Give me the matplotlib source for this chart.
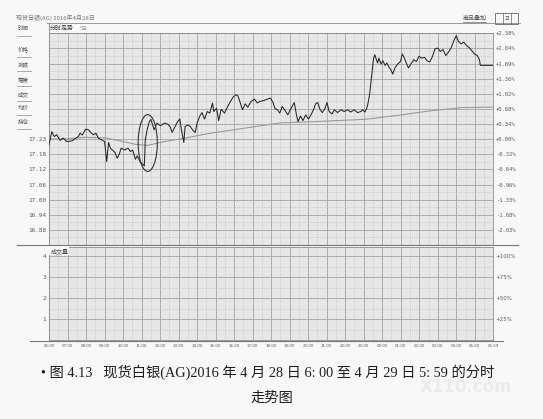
import matplotlib
matplotlib.use("Agg")
import matplotlib.pyplot as plt
from matplotlib.patches import Ellipse, Rectangle
from matplotlib.lines import Line2D

# ---------------- data ----------------
price_times = [
    "06:00", "06:09", "06:17", "06:25", "06:36", "06:46", "06:57", "07:14", "07:25", "07:35",
    "07:41", "07:48", "07:59", "08:08", "08:15", "08:24", "08:32", "08:40", "08:51", "09:00",
    "09:07", "09:13", "09:19", "09:27", "09:34", "09:41", "09:48", "09:54", "10:05", "10:16",
    "10:24", "10:31", "10:40", "10:46", "10:55", "11:03", "11:09", "11:12", "11:18", "11:25",
    "11:30", "11:36", "11:41", "11:50", "12:01", "12:14", "12:25", "12:33", "12:39", "12:46",
    "12:57", "13:04", "13:09", "13:17", "13:21", "13:30", "13:38", "13:47", "13:54", "14:00",
    "14:09", "14:16", "14:24", "14:33", "14:41", "14:50", "14:54", "15:03", "15:10", "15:18",
    "15:29", "15:38", "15:48", "15:57", "16:06", "16:12", "16:21", "16:27", "16:36", "16:44",
    "16:55", "17:06", "17:15", "17:23", "17:37", "17:47", "17:58", "18:06", "18:12", "18:20",
    "18:28", "18:36", "18:45", "18:54", "19:02", "19:11", "19:15", "19:22", "19:27", "19:35",
    "19:43", "19:52", "20:01", "20:09", "20:18", "20:24", "20:31", "20:38", "20:46", "20:55",
    "21:01", "21:08", "21:17", "21:25", "21:35", "21:46", "21:57", "22:08", "22:18", "22:29",
    "22:40", "22:51", "22:56", "23:04", "23:10", "23:14", "23:19", "23:23", "23:28", "23:32",
    "23:36", "23:41", "23:45", "23:49", "23:56", "00:02", "00:09", "00:15", "00:22", "00:28",
    "00:34", "00:41", "00:50", "00:59", "01:05", "01:12", "01:18", "01:25", "01:33", "01:42",
    "01:51", "01:59", "02:08", "02:17", "02:25", "02:34", "02:43", "02:51", "03:00", "03:08",
    "03:17", "03:26", "03:35", "03:43", "03:52", "04:00", "04:07", "04:16", "04:24", "04:33",
    "04:42", "04:50", "04:59", "05:08", "05:15", "05:18", "05:59",
]
price_values = [
    17.213, 17.264, 17.245, 17.252, 17.230, 17.239, 17.226, 17.228, 17.237, 17.245,
    17.258, 17.251, 17.274, 17.271, 17.261, 17.252, 17.258, 17.239, 17.232, 17.226,
    17.148, 17.222, 17.200, 17.191, 17.183, 17.161, 17.178, 17.200, 17.193, 17.200,
    17.187, 17.193, 17.157, 17.170, 17.148, 17.139, 17.131, 17.232, 17.271, 17.303,
    17.312, 17.290, 17.271, 17.297, 17.287, 17.297, 17.293, 17.282, 17.261, 17.278,
    17.303, 17.313, 17.274, 17.222, 17.284, 17.290, 17.284, 17.268, 17.261, 17.297,
    17.325, 17.338, 17.313, 17.342, 17.336, 17.375, 17.342, 17.355, 17.307, 17.351,
    17.336, 17.359, 17.381, 17.398, 17.407, 17.403, 17.372, 17.349, 17.372, 17.359,
    17.381, 17.390, 17.375, 17.381, 17.385, 17.390, 17.394, 17.377, 17.355, 17.349,
    17.336, 17.362, 17.346, 17.329, 17.349, 17.368, 17.377, 17.329, 17.303, 17.325,
    17.307, 17.329, 17.313, 17.329, 17.351, 17.372, 17.377, 17.351, 17.338, 17.355,
    17.377, 17.342, 17.333, 17.349, 17.338, 17.349, 17.342, 17.349, 17.340, 17.349,
    17.338, 17.342, 17.349, 17.340, 17.355, 17.375, 17.407, 17.452, 17.504, 17.549,
    17.562, 17.543, 17.530, 17.549, 17.526, 17.539, 17.521, 17.530, 17.513, 17.504,
    17.487, 17.511, 17.526, 17.536, 17.565, 17.549, 17.530, 17.511, 17.526, 17.543,
    17.536, 17.556, 17.549, 17.552, 17.539, 17.534, 17.556, 17.585, 17.588, 17.575,
    17.582, 17.559, 17.573, 17.588, 17.616, 17.636, 17.614, 17.604, 17.611, 17.598,
    17.590, 17.578, 17.565, 17.559, 17.543, 17.521, 17.521,
]
avg_times = ["06:00", "06:52", "07:57", "09:02", "09:51", "10:40", "11:19", "12:17", "13:16",
             "14:43", "15:58", "17:26", "18:31", "20:41", "23:07", "01:01", "02:38", "04:16", "05:59"]
avg_values = [17.236, 17.236, 17.242, 17.240, 17.228, 17.215, 17.211, 17.226, 17.238,
              17.258, 17.271, 17.287, 17.298, 17.304, 17.312, 17.329, 17.345, 17.357, 17.359]

base_price = 17.235          # previous close (0.00 %)
row_pct = 0.34               # percent per grid row
left_price_labels = ["17.23", "17.18", "17.12", "17.06", "17.00", "16.94", "16.88"]
right_pct_labels = ["+2.38%", "+2.04%", "+1.69%", "+1.36%", "+1.02%", "+0.68%", "+0.34%",
                    "+0.00%", "-0.32%", "-0.64%", "-0.96%", "-1.33%", "-1.68%", "-2.03%"]
vol_levels = [1, 2, 3, 4]
vol_left_labels = ["1", "2", "3", "4"]
vol_right_labels = ["+25%", "+50%", "+75%", "+100%"]
x_tick_labels = ["06:00", "07:00", "08:00", "09:00", "10:00", "11:00", "12:00", "13:00",
                 "14:00", "15:00", "16:00", "17:00", "18:00", "19:00", "20:00", "21:00",
                 "22:00", "23:00", "00:00", "01:00", "02:00", "03:00", "04:00", "05:00", "05:59"]
menu_items = ["时间", "价格", "涨跌", "幅度", "成交", "均价", "持仓"]
title_text = "现货白银(AG) 2016年4月28日"
caption_line1 = "• 图 4.13   现货白银(AG)2016 年 4 月 28 日 6: 00 至 4 月 29 日 5: 59 的分时"
caption_line2 = "走势图"
# ellipse marking the breakout (centre time, centre price, width minutes, height price)
mark_time, mark_price, mark_w, mark_h = "11:20", 17.220, 62, 0.22


def to_minutes(t):
    h, m = map(int, t.split(":"))
    return ((h - 6) % 24) * 60 + m


# ---------------- figure ----------------
W, H = 543, 419
fig = plt.figure(figsize=(W / 100, H / 100), dpi=100)
fig.patch.set_facecolor("#f8f8f8")
CJK = ["Noto Sans CJK SC", "DejaVu Sans"]
TXT = "#5a5a5a"
GRID = "#a4a4a4"
MINOR = "#c2c2c2"
PANEL = "#e7e7e7"


def fx(x):
    return x / W


def fy(y):
    return 1 - y / H


L, R = 49, 493
ax = fig.add_axes([fx(L), fy(245), fx(R) - fx(L), fy(33.3) - fy(245)])
axv = fig.add_axes([fx(L), fy(340), fx(R) - fx(L), fy(247) - fy(340)])

xt = [to_minutes(t) for t in x_tick_labels]
x_minor = [v + 30 for v in xt[:-2]] + [xt[-2] + 30]

for a in (ax, axv):
    a.set_facecolor(PANEL)
    a.set_xlim(0, 1439)
    a.set_xticks(xt)
    a.set_xticks(x_minor, minor=True)
    a.grid(which="major", color=GRID, lw=0.6, ls="-")
    a.grid(which="minor", color=MINOR, lw=0.5, ls=(0, (1.5, 1.5)))
    a.tick_params(which="both", length=0, pad=2)
    a.set_axisbelow(True)
    for s in a.spines.values():
        s.set_color("#8a8a8a")
        s.set_linewidth(0.6)

# price panel
rows = list(range(7, -8, -1))
ypos = [base_price * (1 + k * row_pct / 100) for k in rows]
ax.set_ylim(ypos[-1], ypos[0])
ax.set_yticks(ypos)
ax.set_yticks([(ypos[i] + ypos[i + 1]) / 2 for i in range(len(ypos) - 1)], minor=True)
lefts = [""] * len(rows)
for i, lab in enumerate(left_price_labels):
    lefts[rows.index(-i)] = lab
ax.set_yticklabels(lefts, fontsize=4.3, color=TXT, family="DejaVu Sans Mono")
ax.set_xticklabels([])

ax2 = ax.twinx()
ax2.set_ylim(ax.get_ylim())
ax2.set_yticks(ypos)
ax2.set_yticklabels(right_pct_labels + [""], fontsize=4.0, color=TXT, family="DejaVu Sans Mono")
ax2.tick_params(length=0, pad=2)
for s in ax2.spines.values():
    s.set_visible(False)

pt = [to_minutes(t) for t in price_times]
ax.plot([to_minutes(t) for t in avg_times], avg_values, color="#9a9a9a", lw=0.8, zorder=3)
ax.plot(pt, price_values, color="#262626", lw=0.75, zorder=4)
ax.add_patch(Ellipse((to_minutes(mark_time), mark_price), mark_w, mark_h,
                     fill=False, ec="#333333", lw=0.8, zorder=5))

# volume panel (no bars shown)
axv.set_ylim(0, 4.43)
axv.set_yticks(vol_levels)
axv.set_yticks([0.5, 1.5, 2.5, 3.5], minor=True)
axv.set_yticklabels(vol_left_labels, fontsize=4.3, color=TXT)
axv.set_xticklabels(x_tick_labels, fontsize=2.9, color=TXT)
axv.tick_params(axis="x", pad=3)
axv3 = axv.twinx()
axv3.set_ylim(axv.get_ylim())
axv3.set_yticks(vol_levels)
axv3.set_yticklabels(vol_right_labels, fontsize=4.0, color=TXT)
axv3.tick_params(length=0, pad=2)
for s in axv3.spines.values():
    s.set_visible(False)
axv.text(0.003, 0.985, "成交量", transform=axv.transAxes, fontsize=4.3, family=CJK,
         color="#444444", va="top", ha="left",
         bbox=dict(boxstyle="square,pad=0.15", fc="#f8f8f8", ec="none"))


# ---------------- frame lines & header ----------------
def hline(y, x0, x1, color="#8a8a8a", lw=0.6):
    fig.add_artist(Line2D([fx(x0), fx(x1)], [fy(y), fy(y)], color=color, lw=lw))


def vline(x, y0, y1, color="#8a8a8a", lw=0.6):
    fig.add_artist(Line2D([fx(x), fx(x)], [fy(y0), fy(y1)], color=color, lw=lw))


hline(23, 47, 520)
hline(245, 17, 518, color="#777777", lw=0.8)
hline(340.5, 30, 503, color="#777777", lw=0.8)
vline(L, 23, 33.3)

fig.text(fx(16), fy(18), title_text, fontsize=4.3, family=CJK, color="#777777", va="center")
fig.text(fx(50), fy(28.5), "分时走势", fontsize=4.3, family=CJK, color="#333333", va="center")
fig.text(fx(80), fy(28.5), "5日", fontsize=3.6, family=CJK, color="#999999", va="center")
fig.text(fx(463), fy(18.5), "商品叠加", fontsize=4.3, family=CJK, color="#444444", va="center")
hline(22, 463, 486, color="#666666", lw=0.5)
fig.add_artist(Rectangle((fx(495), fy(24)), fx(518) - fx(495), fy(13) - fy(24),
                         transform=fig.transFigure, fill=False, ec="#666666", lw=0.6))
vline(502.5, 13, 24, color="#666666", lw=0.5)
vline(510.5, 13, 24, color="#666666", lw=0.5)
fig.text(fx(506.5), fy(18.5), "日", fontsize=3.5, family=CJK, color="#555555",
         ha="center", va="center")

menu_y = [29, 49, 64, 79, 94, 108, 122]
for lab, y in zip(menu_items, menu_y):
    fig.text(fx(18), fy(y), lab, fontsize=4.0, family=CJK, color="#555555", va="center")
for y in [36, 57, 71, 86, 101, 115, 129]:
    hline(y, 17, 31, color="#8a8a8a", lw=0.5)

# watermark (kept between the two caption lines)
fig.text(fx(420), fy(387), "X110.com", fontsize=12, fontweight="bold", color="#ebebeb",
         va="center", ha="left", family="DejaVu Sans", zorder=0)

# caption
fig.text(fx(268), fy(372), caption_line1, fontsize=10.3, color="#1e1e1e",
         family=["Liberation Serif", "Noto Sans CJK SC"], ha="center", va="center", zorder=2)
fig.text(fx(272), fy(398), caption_line2, fontsize=10.3, color="#1e1e1e",
         family=["Liberation Serif", "Noto Sans CJK SC"], ha="center", va="center", zorder=2)

fig.savefig("out.png", dpi=100, facecolor=fig.get_facecolor())
